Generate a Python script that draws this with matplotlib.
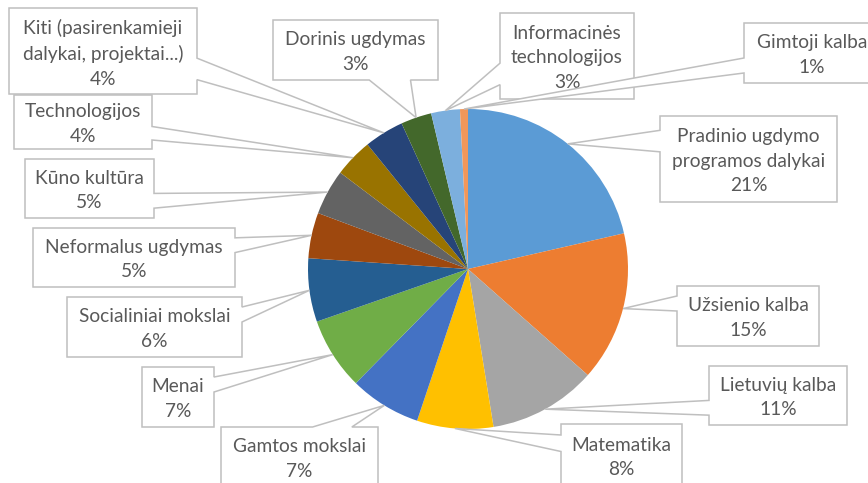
import numpy as np
import matplotlib
matplotlib.use('Agg')
import matplotlib.pyplot as plt
from matplotlib.patches import Polygon

plt.rcParams['font.family'] = ['Lato', 'DejaVu Sans']

# subjects, clockwise from 12 o'clock
subjects = [
    'Pradinio ugdymo\nprogramos dalykai',
    'Užsienio kalba',
    'Lietuvių kalba',
    'Matematika',
    'Gamtos mokslai',
    'Menai',
    'Socialiniai mokslai',
    'Neformalus ugdymas',
    'Kūno kultūra',
    'Technologijos',
    'Kiti (pasirenkamieji\ndalykai, projektai...)',
    'Dorinis ugdymas',
    'Informacinės\ntechnologijos',
    'Gimtoji kalba',
]
shares = [21.4, 15.1, 10.9, 7.7, 7.2, 7.3, 6.4, 4.6, 4.6, 3.9, 4.0, 3.1, 2.9, 0.8]
colors = ['#5B9BD5', '#ED7D31', '#A5A5A5', '#FFC000', '#4472C4', '#70AD47',
          '#255E91', '#9E480E', '#636363', '#997300', '#264478', '#43682B',
          '#7CAFDD', '#F1975A']

# callout boxes in image pixels: left, top, right, bottom
boxes = [
    (660, 116, 837, 202),
    (677, 286, 819, 346),
    (709, 366, 847, 425),
    (561, 424, 682, 490),
    (221, 427, 378, 490),
    (142, 367, 214, 427),
    (67, 297, 242, 357),
    (33, 228, 235, 287),
    (25, 159, 154, 218),
    (14, 95, 152, 149),
    (9, 8, 197, 94),
    (273, 20, 438, 80),
    (500, 13, 634, 99),
    (744, 23, 880, 83),
]

W, H = 868, 483
CX, CY, R = 468, 269, 160

fig = plt.figure(figsize=(W / 100, H / 100), dpi=100)
ax = fig.add_axes([0, 0, 1, 1])

wedges, _ = ax.pie(shares, colors=colors, startangle=90, counterclock=False,
                   center=(CX, H - CY), radius=R,
                   wedgeprops=dict(linewidth=0))
ax.set_xlim(0, W)
ax.set_ylim(0, H)
ax.set_aspect('equal')
ax.axis('off')


def callout_path(box, tip):
    # excel style wedge rectangle callout, image coords (y down)
    left, top, right, bottom = box
    w, h = right - left, bottom - top
    tx, ty = tip
    dx = tx - (left + right) / 2
    dy = ty - (top + bottom) / 2
    dq = dx * h / w
    if abs(dy) > abs(dq):
        g = (7, 10) if dx > 0 else (2, 5)
        x1, x2 = left + w * g[0] / 12, left + w * g[1] / 12
        if dy > 0:
            pts = [(left, top), (right, top), (right, bottom), (x2, bottom),
                   (tx, ty), (x1, bottom), (left, bottom)]
        else:
            pts = [(left, top), (x1, top), (tx, ty), (x2, top), (right, top),
                   (right, bottom), (left, bottom)]
    else:
        g = (7, 10) if dy > 0 else (2, 5)
        y1, y2 = top + h * g[0] / 12, top + h * g[1] / 12
        if dx > 0:
            pts = [(left, top), (right, top), (right, y1), (tx, ty),
                   (right, y2), (right, bottom), (left, bottom)]
        else:
            pts = [(left, top), (right, top), (right, bottom), (left, bottom),
                   (left, y2), (tx, ty), (left, y1)]
    return [(x, H - y) for x, y in pts]


total = sum(shares)
for i, (wdg, name, val, box) in enumerate(zip(wedges, subjects, shares, boxes)):
    mid = np.deg2rad((wdg.theta1 + wdg.theta2) / 2)
    tip = (CX + R * np.cos(mid), CY - R * np.sin(mid))
    poly = Polygon(callout_path(box, tip), closed=True, facecolor='white',
                   edgecolor='#BFBFBF', linewidth=1.1, zorder=3 + i,
                   clip_on=False)
    ax.add_patch(poly)
    left, top, right, bottom = box
    yc = (top + min(bottom, 487)) / 2 + 2
    ax.text((left + right) / 2, H - yc,
            f'{name}\n{val / total * 100:.0f}%',
            ha='center', va='center', fontsize=13.8, color='#595959',
            linespacing=1.55, zorder=3 + i)

fig.savefig('out.png', dpi=100)
